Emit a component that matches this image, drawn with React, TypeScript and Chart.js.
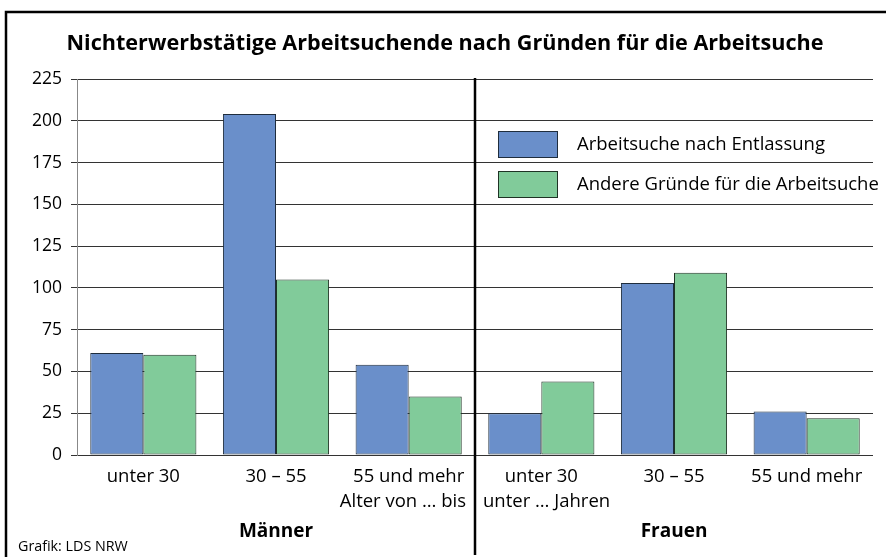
import React, { useEffect, useRef } from "react";
import { Chart, registerables } from "chart.js";

Chart.register(...registerables);

const categories = ["unter 30", "30 – 55", "55 und mehr", "unter 30", "30 – 55", "55 und mehr"];
const entlassung = [61, 204, 54, 25, 103, 26];
const andereGruende = [60, 105, 35, 44, 109, 22];
const seriesNames = ["Arbeitsuche nach Entlassung", "Andere Gründe für die Arbeitsuche"];
const groups = ["Männer", "Frauen"];
const yTicks = [0, 25, 50, 75, 100, 125, 150, 175, 200, 225];
const title = "Nichterwerbstätige Arbeitsuchende nach Gründen für die Arbeitsuche";
const source = "Grafik: LDS NRW";
const subLabelLeft = "Alter von … bis";
const subLabelRight = "unter … Jahren";

const BLUE = "#6a8fca";
const GREEN = "#81cb9a";
const FONT = "'Open Sans', 'Noto Sans', sans-serif";

const overlayPlugin = {
  id: "overlay",
  afterDraw(chart: any) {
    const ctx = chart.ctx;
    const xs = chart.scales.x;
    const area = chart.chartArea;
    ctx.save();
    // frame
    ctx.strokeStyle = "#000";
    ctx.lineWidth = 2.5;
    ctx.strokeRect(6, 12, 900, 600);
    // title
    ctx.fillStyle = "#000";
    ctx.font = `bold 21.6px ${FONT}`;
    ctx.textAlign = "center";
    ctx.textBaseline = "middle";
    ctx.fillText(title, 445, 44);
    // separator
    const sepX = (xs.getPixelForTick(2) + xs.getPixelForTick(3)) / 2;
    ctx.beginPath();
    ctx.lineWidth = 2.5;
    ctx.moveTo(sepX, area.top - 1);
    ctx.lineTo(sepX, 555);
    ctx.stroke();
    // sub labels
    ctx.font = `18.5px ${FONT}`;
    ctx.textAlign = "right";
    ctx.fillText(subLabelLeft, sepX - 9, 502);
    ctx.textAlign = "left";
    ctx.fillText(subLabelRight, sepX + 8, 502);
    // group labels
    ctx.font = `bold 19px ${FONT}`;
    ctx.textAlign = "center";
    const g1 = xs.getPixelForTick(1);
    const g2 = xs.getPixelForTick(4);
    ctx.fillText(groups[0], g1, 532);
    ctx.fillText(groups[1], g2, 532);
    // source
    ctx.font = `14.3px ${FONT}`;
    ctx.textAlign = "left";
    ctx.fillText(source, 18, 547);
    // legend
    const colors = [BLUE, GREEN];
    const borders = ["#1f2d3d", "#1f3325"];
    const lx = 498;
    const ly = [131, 171];
    ctx.font = `18.5px ${FONT}`;
    seriesNames.forEach((name, i) => {
      ctx.fillStyle = colors[i];
      ctx.fillRect(lx, ly[i], 59, 26);
      ctx.strokeStyle = borders[i];
      ctx.lineWidth = 1;
      ctx.strokeRect(lx + 0.5, ly[i] + 0.5, 59, 26);
      ctx.fillStyle = "#000";
      ctx.textAlign = "left";
      ctx.fillText(name, 577, ly[i] + 14);
    });
    ctx.restore();
  },
};

export default function App() {
  const ref = useRef<HTMLCanvasElement>(null);
  useEffect(() => {
    if (!ref.current) return;
    const chart = new Chart(ref.current, {
      type: "bar",
      data: {
        labels: categories,
        datasets: [
          {
            label: seriesNames[0],
            data: entlassung,
            backgroundColor: BLUE,
            borderColor: "#1f2d3d",
            borderWidth: 1,
            borderSkipped: false,
          },
          {
            label: seriesNames[1],
            data: andereGruende,
            backgroundColor: GREEN,
            borderColor: "#1f3325",
            borderWidth: 1,
            borderSkipped: false,
          },
        ],
      },
      options: {
        animation: false,
        responsive: true,
        maintainAspectRatio: false,
        layout: { padding: { top: 79, right: 13, left: 0, bottom: 0 } },
        datasets: { bar: { categoryPercentage: 0.8, barPercentage: 1.0 } },
        plugins: {
          legend: { display: false },
          title: { display: false },
          tooltip: { enabled: false },
        },
        scales: {
          x: {
            grid: { display: false, drawTicks: false },
            border: { display: false },
            ticks: {
              color: "#000",
              font: { family: FONT, size: 18.5 },
              padding: 11,
              maxRotation: 0,
              autoSkip: false,
            },
            afterFit: (s: any) => {
              s.height = 102;
            },
          },
          y: {
            min: 0,
            max: 225,
            afterBuildTicks: (s: any) => {
              s.ticks = yTicks.map((v) => ({ value: v }));
            },
            grid: { color: "#333", lineWidth: 1, tickLength: 6, tickColor: "#333" },
            border: { display: true, color: "#888", width: 1 },
            ticks: {
              color: "#000",
              font: { family: FONT, size: 17.5 },
              padding: 9,
            },
            afterFit: (s: any) => {
              s.width = 77;
            },
          },
        },
      },
      plugins: [overlayPlugin],
    });
    return () => chart.destroy();
  }, []);
  return (
    <div style={{ position: "fixed", left: 0, top: 0, width: 886, height: 557, background: "#fff" }}>
      <canvas ref={ref} />
    </div>
  );
}
